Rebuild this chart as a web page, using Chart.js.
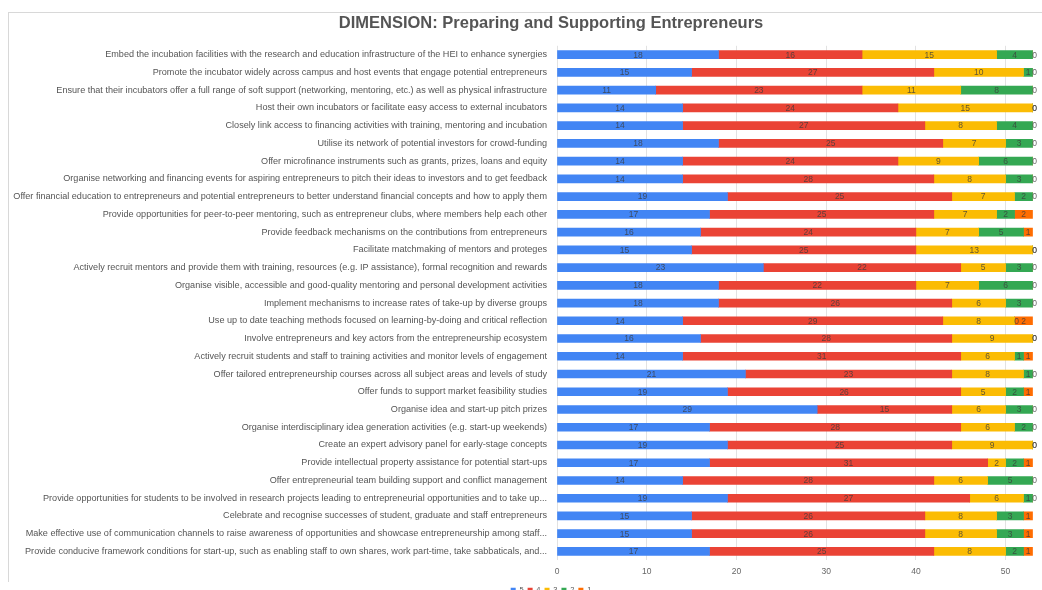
<!DOCTYPE html>
<html>
<head>
<meta charset="utf-8">
<script src="https://cdn.jsdelivr.net/npm/chart.js@4/dist/chart.umd.min.js"></script>
<style>
  html, body { margin: 0; padding: 0; background: #fff; overflow: hidden; }
  #wrap { position: relative; width: 1042px; height: 590px; overflow: hidden; }
  #frame { position: absolute; left: 8px; top: 12px; right: 0; bottom: 8px;
           border-top: 1px solid #d8d8d8; border-left: 1px solid #d8d8d8; }
  canvas { position: absolute; left: 0; top: 0; }
</style>
</head>
<body>
<div id="wrap">
  <div id="frame"></div>
  <canvas id="c" width="1042" height="604"></canvas>
</div>
<script>
const categories = [
  "Embed the incubation facilities with the research and education infrastructure of the HEI to enhance synergies",
  "Promote the incubator widely across campus and host events that engage potential entrepreneurs",
  "Ensure that their incubators offer a full range of soft support (networking, mentoring, etc.) as well as physical infrastructure",
  "Host their own incubators or facilitate easy access to external incubators",
  "Closely link access to financing activities with training, mentoring and incubation",
  "Utilise its network of potential investors for crowd-funding",
  "Offer microfinance instruments such as grants, prizes, loans and equity",
  "Organise networking and financing events for aspiring entrepreneurs to pitch their ideas to investors and to get feedback",
  "Offer financial education to entrepreneurs and potential entrepreneurs to better understand financial concepts and how to apply them",
  "Provide opportunities for peer-to-peer mentoring, such as entrepreneur clubs, where members help each other",
  "Provide feedback mechanisms on the contributions from entrepreneurs",
  "Facilitate matchmaking of mentors and proteges",
  "Actively recruit mentors and provide them with training, resources (e.g. IP assistance), formal recognition and rewards",
  "Organise visible, accessible and good-quality mentoring and personal development activities",
  "Implement mechanisms to increase rates of take-up by diverse groups",
  "Use up to date teaching methods focused on learning-by-doing and critical reflection",
  "Involve entrepreneurs and key actors from the entrepreneurship ecosystem",
  "Actively recruit students and staff to training activities and monitor levels of engagement",
  "Offer tailored entrepreneurship courses across all subject areas and levels of study",
  "Offer funds to support market feasibility studies",
  "Organise idea and start-up pitch prizes",
  "Organise interdisciplinary idea generation activities (e.g. start-up weekends)",
  "Create an expert advisory panel for early-stage concepts",
  "Provide intellectual property assistance for potential start-ups",
  "Offer entrepreneurial team building support and conflict management",
  "Provide opportunities for students to be involved in research projects leading to entrepreneurial opportunities and to take up...",
  "Celebrate and recognise successes of student, graduate and staff entrepreneurs",
  "Make effective use of communication channels to raise awareness of opportunities and showcase entrepreneurship among staff...",
  "Provide conducive framework conditions for start-up, such as enabling staff to own shares, work part-time, take sabbaticals, and..."
];
const seriesNames = ["5", "4", "3", "2", "1"];
const s5 = [18,15,11,14,14,18,14,14,19,17,16,15,23,18,18,14,16,14,21,19,29,17,19,17,14,19,15,15,17];
const s4 = [16,27,23,24,27,25,24,28,25,25,24,25,22,22,26,29,28,31,23,26,15,28,25,31,28,27,26,26,25];
const s3 = [15,10,11,15,8,7,9,8,7,7,7,13,5,7,6,8,9,6,8,5,6,6,9,2,6,6,8,8,8];
const s2 = [4,1,8,0,4,3,6,3,2,2,5,0,3,6,3,0,0,1,1,2,3,2,0,2,5,1,3,3,2];
const s1 = [0,0,0,0,0,0,0,0,0,2,1,0,0,0,0,2,0,1,0,1,0,0,0,1,0,0,1,1,1];
const xTicks = [0, 10, 20, 30, 40, 50];
const colors = ["#4285F4", "#EA4335", "#FBBC04", "#34A853", "#FF6D01"];

const FONT = '"Liberation Sans", Arial, sans-serif';

const valueLabels = {
  id: 'valueLabels',
  afterDatasetsDraw(chart) {
    const ctx = chart.ctx;
    ctx.save();
    ctx.font = '8.5px ' + FONT;
    ctx.fillStyle = 'rgba(60,60,60,0.8)';
    ctx.textAlign = 'center';
    ctx.textBaseline = 'middle';
    chart.data.datasets.forEach((ds, di) => {
      const meta = chart.getDatasetMeta(di);
      meta.data.forEach((el, i) => {
        const p = el.getProps(['x', 'base', 'y'], true);
        const v = ds.data[i];
        let cx = (p.x + p.base) / 2;
        if (v === 0) cx = p.x + 2;
        ctx.fillText(String(v), cx, p.y + 0.5);
      });
    });
    ctx.restore();
  }
};

const seriesData = [s5, s4, s3, s2, s1];
new Chart(document.getElementById('c'), {
  type: 'bar',
  data: {
    labels: categories,
    datasets: seriesNames.map((n, k) => ({
      label: n,
      data: seriesData[k],
      backgroundColor: colors[k],
      borderWidth: 0,
      barThickness: 8
    }))
  },
  options: {
    indexAxis: 'y',
    responsive: false,
    animation: false,
    devicePixelRatio: 1,
    layout: { padding: { left: 65, right: 5, top: 0, bottom: 0 } },
    scales: {
      x: {
        stacked: true,
        min: 0,
        max: 53.5,
        afterBuildTicks(scale) { scale.ticks = xTicks.map(v => ({ value: v })); },
        grid: { color: '#e2e2e2', drawTicks: false },
        border: { display: false },
        ticks: { padding: 6, color: '#666', font: { size: 8.5, family: FONT } }
      },
      y: {
        stacked: true,
        afterFit(scale) {
          scale.width = 492;
          scale._computeLabelArea = function () { return undefined; };
        },
        grid: { display: false },
        border: { display: false },
        ticks: { padding: 2, color: '#555', autoSkip: false, font: { size: 9.1, family: FONT } }
      }
    },
    plugins: {
      title: {
        display: true,
        text: 'DIMENSION: Preparing and Supporting Entrepreneurs',
        color: '#555',
        font: { size: 16.5, weight: 'bold', family: FONT },
        padding: { top: 14, bottom: 12 }
      },
      legend: {
        position: 'bottom',
        labels: {
          boxWidth: 5, boxHeight: 5, padding: 4, color: '#555',
          font: { size: 7.5, family: FONT }
        }
      },
      tooltip: { enabled: false }
    }
  },
  plugins: [valueLabels]
});
</script>
</body>
</html>
